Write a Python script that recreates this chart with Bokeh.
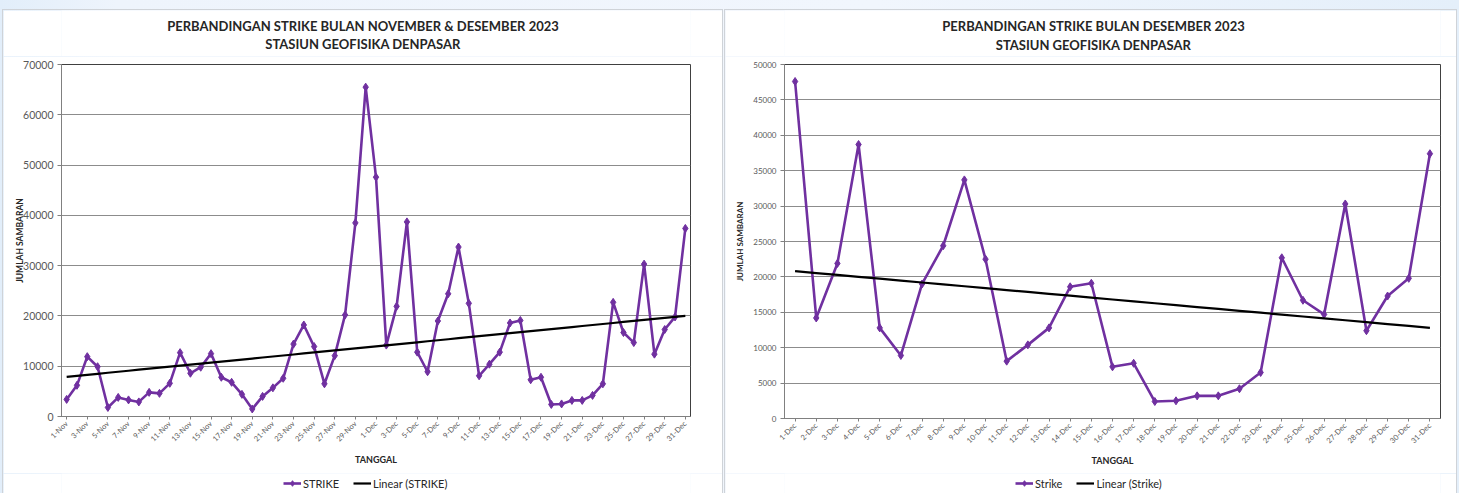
import numpy as np
from bokeh.plotting import figure
from bokeh.models import Range1d, FixedTicker, Label, Legend, LegendItem, BasicTickFormatter
from bokeh.layouts import row, column
from bokeh.embed import file_html
from bokeh.resources import INLINE

# Daily lightning strike counts, Stasiun Geofisika Denpasar
nov_days = list(range(1, 31))
dec_days = list(range(1, 32))
nov_strike = [3400, 6200, 11900, 9900, 1800, 3800, 3300, 2900, 4800, 4600,
              6600, 12700, 8600, 9800, 12500, 7800, 6800, 4400, 1500, 4000,
              5700, 7600, 14400, 18200, 13900, 6500, 12100, 20200, 38500, 65500]
dec_strike = [47600, 14200, 21900, 38700, 12800, 8900, 19000, 24400, 33700, 22500,
              8100, 10400, 12800, 18600, 19100, 7300, 7800, 2400, 2500, 3200,
              3200, 4200, 6500, 22700, 16700, 14700, 30300, 12400, 17300, 19800,
              37400]
nov_labels = [f"{d}-Nov" for d in nov_days]
dec_labels = [f"{d}-Dec" for d in dec_days]

PURPLE = "#7030a0"
FONT = "Lato"
TXT = "#262626"
TICK_TXT = "#595959"


def strip(width, height):
    # bare canvas used for the heading and the key
    q = figure(width=width, height=height, output_backend="svg", toolbar_location=None,
               x_range=Range1d(0, 1), y_range=Range1d(-2, -1), x_axis_type=None,
               y_axis_type=None, min_border=0, outline_line_color=None,
               background_fill_color="white", border_fill_color="white")
    q.xgrid.grid_line_color = None
    q.ygrid.grid_line_color = None
    return q


def heading(width, lines, x, ys):
    q = strip(width, 46)
    for txt, y in zip(lines, ys):
        q.add_layout(Label(x=x, y=y, x_units="screen", y_units="screen", text=txt,
                           text_font=FONT, text_font_style="bold", text_font_size="13px",
                           text_color=TXT, text_align="center", text_baseline="middle"))
    return q


def key(width, values, names, x):
    q = strip(width, 20)
    idx = np.arange(len(values))
    slope, intercept = np.polyfit(idx, np.array(values, dtype=float), 1)
    ln = q.line(idx, values, line_color=PURPLE, line_width=2.6)
    mk = q.scatter(idx, values, marker="diamond", size=8, fill_color=PURPLE,
                   line_color=PURPLE)
    tr = q.line(idx, slope * idx + intercept, line_color="black", line_width=2.2)
    q.add_layout(Legend(items=[LegendItem(label=names[0], renderers=[ln, mk]),
                               LegendItem(label=names[1], renderers=[tr])],
                        orientation="horizontal", location=(x, 3),
                        glyph_width=18, glyph_height=14, label_height=14,
                        label_standoff=2, spacing=14, padding=0, margin=0,
                        border_line_alpha=0, background_fill_alpha=0,
                        label_text_font=FONT, label_text_font_size="11px",
                        label_text_color=TXT), "center")
    return q


def chart(labels, values, width, height, borders, ymax, ystep, label_every,
          ytick_size, ylabel_size, ylabel_standoff):
    left, right, top, bottom = borders
    n = len(values)
    idx = np.arange(n)
    p = figure(width=width, height=height, output_backend="svg", toolbar_location=None,
               x_range=Range1d(-0.5, n - 0.5), y_range=Range1d(0, ymax),
               min_border_left=left, min_border_right=right,
               min_border_top=top, min_border_bottom=bottom,
               background_fill_color="white", border_fill_color="white",
               outline_line_color="#404040", outline_line_width=1)

    # least-squares trend line over the day index
    slope, intercept = np.polyfit(idx, np.array(values, dtype=float), 1)
    p.line(idx, values, line_color=PURPLE, line_width=2.6)
    p.scatter(idx, values, marker="diamond", size=8, fill_color=PURPLE, line_color=PURPLE)
    p.line(idx, slope * idx + intercept, line_color="black", line_width=2.2)

    p.xgrid.grid_line_color = None
    p.ygrid.grid_line_color = "#8c8c8c"
    p.ygrid.grid_line_width = 1
    p.yaxis.ticker = FixedTicker(ticks=list(range(0, ymax + 1, ystep)))
    p.yaxis.formatter = BasicTickFormatter(use_scientific=False)
    p.yaxis.axis_label = "JUMLAH SAMBARAN"
    p.yaxis.axis_label_text_font = FONT
    p.yaxis.axis_label_text_font_style = "bold"
    p.yaxis.axis_label_text_font_size = ylabel_size
    p.yaxis.axis_label_text_color = TXT
    p.yaxis.axis_label_standoff = ylabel_standoff
    p.yaxis.major_label_text_font = FONT
    p.yaxis.major_label_text_font_size = ytick_size
    p.yaxis.major_label_text_color = TICK_TXT
    p.yaxis.major_label_standoff = 4
    p.yaxis.major_tick_out = 4
    p.yaxis.major_tick_in = 0
    p.yaxis.minor_tick_line_color = None
    p.yaxis.axis_line_color = "#808080"
    p.yaxis.major_tick_line_color = "#808080"

    shown = list(range(0, n, label_every))
    p.xaxis.ticker = FixedTicker(ticks=shown)
    p.xaxis.major_label_overrides = {i: labels[i] for i in shown}
    p.xaxis.major_label_orientation = np.pi / 4
    p.xaxis.major_label_text_font = FONT
    p.xaxis.major_label_text_font_size = "7.5px"
    p.xaxis.major_label_text_color = TICK_TXT
    p.xaxis.major_label_standoff = 3
    p.xaxis.major_tick_out = 3
    p.xaxis.major_tick_in = 0
    p.xaxis.minor_tick_line_color = None
    p.xaxis.axis_line_color = "#808080"
    p.xaxis.major_tick_line_color = "#808080"
    p.xaxis.axis_label = "TANGGAL"
    p.xaxis.axis_label_text_font = FONT
    p.xaxis.axis_label_text_font_style = "bold"
    p.xaxis.axis_label_text_font_size = "9px"
    p.xaxis.axis_label_text_color = TXT
    p.xaxis.axis_label_standoff = 4
    return p


all_labels = nov_labels + dec_labels
all_strike = nov_strike + dec_strike

PANEL_EDGE = {"box-shadow": "0 0 0 1px #cfd3d8"}

left_panel = column(
    heading(719, ("PERBANDINGAN STRIKE BULAN NOVEMBER & DESEMBER 2023",
                  "STASIUN GEOFISIKA DENPASAR"), 301.5, (31, 13)),
    chart(all_labels, all_strike, width=719, height=417, borders=(58, 32, 8, 57),
          ymax=70000, ystep=10000, label_every=2,
          ytick_size="10.5px", ylabel_size="8.5px", ylabel_standoff=-5),
    key(719, all_strike, ("STRIKE", "Linear (STRIKE)"), 222),
    spacing=0, styles=PANEL_EDGE)

right_panel = column(
    heading(731, ("PERBANDINGAN STRIKE BULAN DESEMBER 2023",
                  "STASIUN GEOFISIKA DENPASAR"), 309, (31, 12)),
    chart(dec_labels, dec_strike, width=731, height=417, borders=(59, 16, 8, 55),
          ymax=50000, ystep=5000, label_every=1,
          ytick_size="8px", ylabel_size="8px", ylabel_standoff=5),
    key(731, dec_strike, ("Strike", "Linear (Strike)"), 231),
    spacing=0, styles=PANEL_EDGE)

left_panel.margin = (10, 0, 0, 3)
right_panel.margin = (10, 3, 0, 3)

page = row(left_panel, right_panel, spacing=0, styles={
    "background": "linear-gradient(to right, #e2eefa 0%, #eef4fc 8%, #f1f6fd 60%, #e4effa 100%)",
    "width": "1459px", "height": "493px"})

open("out.html", "w").write(file_html(page, INLINE))
